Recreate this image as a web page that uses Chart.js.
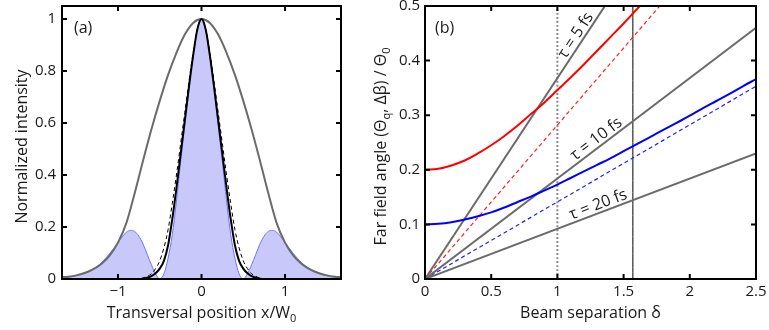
<!DOCTYPE html>
<html>
<head>
<meta charset="utf-8">
<script src="https://cdn.jsdelivr.net/npm/chart.js@4.4.1/dist/chart.umd.min.js"></script>
<style>
  body { margin: 0; background: #fff; }
  #wrap { position: relative; width: 769px; height: 330px; }
  #chartA { position: absolute; left: 0; top: 0; }
  #chartB { position: absolute; left: 355px; top: 0; }
</style>
</head>
<body>
<div id="wrap">
  <canvas id="chartA" width="355" height="330"></canvas>
  <canvas id="chartB" width="414" height="330"></canvas>
</div>
<script>
// ---- panel (a): intensity profiles ----
const grayX = [-1.67, -1.6, -1.5, -1.4, -1.3, -1.2, -1.1, -1, -0.9, -0.8, -0.7, -0.6, -0.5, -0.4, -0.3, -0.2, -0.1, 0,
               0.1, 0.2, 0.3, 0.4, 0.5, 0.6, 0.7, 0.8, 0.9, 1, 1.1, 1.2, 1.3, 1.4, 1.5, 1.6, 1.67];
const grayY = [0.007, 0.009, 0.014, 0.023, 0.037, 0.058, 0.09, 0.14, 0.215, 0.33, 0.455, 0.575, 0.685, 0.785, 0.87, 0.94, 0.985, 1,
               0.985, 0.94, 0.87, 0.785, 0.685, 0.575, 0.455, 0.33, 0.215, 0.14, 0.09, 0.058, 0.037, 0.023, 0.014, 0.009, 0.007];

const solidX = [-0.75, -0.7, -0.65, -0.6, -0.55, -0.5, -0.45, -0.4, -0.35, -0.3, -0.25, -0.2, -0.15, -0.1, -0.05, 0,
                0.05, 0.1, 0.15, 0.2, 0.25, 0.3, 0.35, 0.4, 0.45, 0.5, 0.55, 0.6, 0.65, 0.7, 0.75];
const solidY = [0, 0.001, 0.005, 0.011, 0.022, 0.04, 0.07, 0.13, 0.23, 0.35, 0.48, 0.61, 0.74, 0.86, 0.96, 1,
                0.96, 0.86, 0.74, 0.61, 0.48, 0.35, 0.23, 0.13, 0.07, 0.04, 0.022, 0.011, 0.005, 0.001, 0];

const dashX = [-0.8, -0.75, -0.7, -0.65, -0.6, -0.55, -0.5, -0.45, -0.4, -0.35, -0.3, -0.25, -0.2, -0.15, -0.1, -0.05, 0,
               0.05, 0.1, 0.15, 0.2, 0.25, 0.3, 0.35, 0.4, 0.45, 0.5, 0.55, 0.6, 0.65, 0.7, 0.75, 0.8];
const dashY = [0, 0.001, 0.004, 0.01, 0.02, 0.04, 0.07, 0.12, 0.19, 0.29, 0.40, 0.52, 0.64, 0.76, 0.87, 0.96, 1,
               0.96, 0.87, 0.76, 0.64, 0.52, 0.40, 0.29, 0.19, 0.12, 0.07, 0.04, 0.02, 0.01, 0.004, 0.001, 0];

const fillX = [-1.67, -1.6, -1.5, -1.4, -1.3, -1.2, -1.1, -1, -0.95, -0.9, -0.85, -0.8, -0.75, -0.7, -0.65, -0.6, -0.55,
               -0.5, -0.45, -0.4, -0.35, -0.3, -0.25, -0.2, -0.15, -0.1, -0.05, 0,
               0.05, 0.1, 0.15, 0.2, 0.25, 0.3, 0.35, 0.4, 0.45, 0.5,
               0.55, 0.6, 0.65, 0.7, 0.75, 0.8, 0.85, 0.9, 0.95, 1, 1.1, 1.2, 1.3, 1.4, 1.5, 1.6, 1.67];
const fillY = [0.005, 0.007, 0.013, 0.022, 0.038, 0.062, 0.098, 0.14, 0.162, 0.18, 0.187, 0.183, 0.165, 0.135, 0.095, 0.055, 0.02,
               0, 0.02, 0.08, 0.17, 0.30, 0.45, 0.59, 0.73, 0.86, 0.96, 1,
               0.96, 0.86, 0.73, 0.59, 0.45, 0.30, 0.17, 0.08, 0.02, 0,
               0.02, 0.055, 0.095, 0.135, 0.165, 0.183, 0.187, 0.18, 0.162, 0.14, 0.098, 0.062, 0.038, 0.022, 0.013, 0.007, 0.005];

// ---- panel (b): far field angle vs beam separation ----
const lineX = [0, 2.5];
const tau5Y = [0, 0.92];
const tau10Y = [0, 0.46];
const tau20Y = [0, 0.23];
const redDashY = [0, 0.705];
const blueDashY = [0, 0.353];

const redX = [0, 0.1, 0.2, 0.3, 0.4, 0.5, 0.6, 0.7, 0.8, 0.9, 1, 1.1, 1.2, 1.3, 1.4, 1.5, 1.6, 1.7];
const redY = [0.200, 0.202, 0.208, 0.217, 0.230, 0.245, 0.262, 0.281, 0.302, 0.323, 0.346, 0.369, 0.393, 0.418, 0.443, 0.468, 0.494, 0.519];

const blueX = [0, 0.1, 0.2, 0.3, 0.4, 0.5, 0.6, 0.7, 0.8, 0.9, 1, 1.1, 1.2, 1.3, 1.4, 1.5, 1.6, 1.7, 1.8, 1.9, 2, 2.1, 2.2, 2.3, 2.4, 2.5];
const blueY = [0.100, 0.101, 0.104, 0.109, 0.115, 0.122, 0.131, 0.141, 0.151, 0.162, 0.173, 0.185, 0.197, 0.209, 0.221, 0.234,
               0.247, 0.260, 0.273, 0.286, 0.299, 0.313, 0.326, 0.339, 0.353, 0.366];

const markerX = [1, 1.57];   // dotted gray, solid black
const markerY = [0, 0.5];

const tauLabels = ['τ = 5 fs', 'τ = 10 fs', 'τ = 20 fs'];
const tauLabelAt = [1.19, 1.33, 1.33];

const TEXT = '#1a1a1a';
const GRAY = '#6b6b6b';
const FONT = "'Open Sans', sans-serif";

Chart.defaults.font.family = FONT;
Chart.defaults.font.size = 15;
Chart.defaults.color = TEXT;

function pts(xs, ys) {
    return xs.map((x, i) => ({ x: x, y: ys[i] }));
}

function line(xs, ys, color, width, extra) {
    return Object.assign({
        data: pts(xs, ys),
        showLine: true,
        borderColor: color,
        borderWidth: width,
        pointRadius: 0,
        fill: false,
        cubicInterpolationMode: 'monotone'
    }, extra || {});
}

function noPad(s) {
    s.paddingLeft = 0; s.paddingRight = 0; s.paddingTop = 0; s.paddingBottom = 0;
}

// tick text like "0", "0.2", "1", "−1"
function fmt(v) {
    const s = String(Math.round(v * 100) / 100);
    return s.replace('-', '\u2212');
}

// box round the plot with inward ticks on all four sides
const framePlugin = {
    id: 'frame',
    afterDatasetsDraw(chart) {
        const { ctx, chartArea: a, scales } = chart;
        ctx.save();
        ctx.strokeStyle = '#000';
        ctx.lineWidth = 2;
        ctx.beginPath();
        scales.x.ticks.forEach(t => {
            const px = scales.x.getPixelForValue(t.value);
            ctx.moveTo(px, a.bottom); ctx.lineTo(px, a.bottom - 5);
            ctx.moveTo(px, a.top); ctx.lineTo(px, a.top + 5);
        });
        scales.y.ticks.forEach(t => {
            const py = scales.y.getPixelForValue(t.value);
            ctx.moveTo(a.left, py); ctx.lineTo(a.left + 5, py);
            ctx.moveTo(a.right, py); ctx.lineTo(a.right - 5, py);
        });
        ctx.stroke();
        ctx.strokeRect(a.left, a.top, a.right - a.left, a.bottom - a.top);
        ctx.restore();
    }
};

// text with subscripts, centred on cx along its baseline
function drawRich(ctx, parts, cx, baseY, rot) {
    ctx.save();
    ctx.translate(cx, baseY);
    ctx.rotate(rot);
    ctx.fillStyle = TEXT;
    ctx.textAlign = 'left';
    ctx.textBaseline = 'alphabetic';
    let w = 0;
    parts.forEach(p => {
        ctx.font = (p.sub ? '11px ' : '16px ') + FONT;
        w += ctx.measureText(p.t).width;
    });
    let x = -w / 2;
    parts.forEach(p => {
        ctx.font = (p.sub ? '11px ' : '16px ') + FONT;
        ctx.fillText(p.t, x, p.sub ? 3.5 : 0);
        x += ctx.measureText(p.t).width;
    });
    ctx.restore();
}

const textA = {
    id: 'textA',
    afterDraw(chart) {
        const { ctx, chartArea: a } = chart;
        drawRich(ctx, [{ t: 'Transversal position x/W' }, { t: '0', sub: true }], (a.left + a.right) / 2, 318, 0);
        drawRich(ctx, [{ t: 'Normalized intensity' }], 27, (a.top + a.bottom) / 2 + 4, -Math.PI / 2);
        ctx.save();
        ctx.font = '16px ' + FONT;
        ctx.fillStyle = TEXT;
        ctx.textBaseline = 'middle';
        ctx.fillText('(a)', a.left + 12, a.top + 22);
        ctx.restore();
    }
};

const textB = {
    id: 'textB',
    afterDraw(chart) {
        const { ctx, chartArea: a, scales } = chart;
        drawRich(ctx, [{ t: 'Beam separation δ' }], (a.left + a.right) / 2, 318, 0);
        drawRich(ctx, [{ t: 'Far field angle (Θ' }, { t: 'q', sub: true }, { t: ', Δβ) / Θ' }, { t: '0', sub: true }],
                 31, (a.top + a.bottom) / 2 + 4, -Math.PI / 2);
        ctx.save();
        ctx.font = '16px ' + FONT;
        ctx.fillStyle = TEXT;
        ctx.textBaseline = 'middle';
        ctx.fillText('(b)', a.left + 10, a.top + 22);
        // tau labels sit just above their lines
        const slopes = [tau5Y[1], tau10Y[1], tau20Y[1]];
        tauLabels.forEach((txt, i) => {
            const xv = tauLabelAt[i];
            const k = slopes[i] / lineX[1];
            const p0x = scales.x.getPixelForValue(xv), p0y = scales.y.getPixelForValue(k * xv);
            const p1x = scales.x.getPixelForValue(xv + 0.1), p1y = scales.y.getPixelForValue(k * (xv + 0.1));
            const ang = Math.atan2(p1y - p0y, p1x - p0x);
            const cx = p0x + 8 * Math.sin(ang), cy = p0y - 8 * Math.cos(ang);
            ctx.save();
            ctx.translate(cx, cy);
            ctx.rotate(ang);
            ctx.textAlign = 'center';
            ctx.fillText(txt, 0, 0);
            ctx.restore();
        });
        ctx.restore();
    }
};

new Chart(document.getElementById('chartA'), {
    type: 'scatter',
    data: {
        datasets: [
            line(solidX, solidY, '#000', 2),
            line(dashX, dashY, '#000', 1, { borderDash: [4, 3] }),
            line(grayX, grayY, GRAY, 2),
            line(fillX, fillY, '#7272ff', 1, { fill: 'origin', backgroundColor: '#c8c8fb' })
        ]
    },
    options: {
        responsive: false,
        animation: false,
        layout: { padding: { left: 0, top: 6, right: 14, bottom: 0 } },
        plugins: { legend: { display: false }, tooltip: { enabled: false } },
        scales: {
            x: {
                type: 'linear', min: -1.67, max: 1.67,
                grid: { display: false, drawTicks: false }, border: { display: false },
                ticks: { stepSize: 1, includeBounds: false, padding: 4, callback: fmt },
                afterFit: s => { s.height = 51; noPad(s); }
            },
            y: {
                min: 0, max: 1.05,
                grid: { display: false, drawTicks: false }, border: { display: false },
                ticks: { stepSize: 0.2, includeBounds: false, padding: 6, callback: fmt },
                afterFit: s => { s.width = 62; noPad(s); }
            }
        }
    },
    plugins: [framePlugin, textA]
});

new Chart(document.getElementById('chartB'), {
    type: 'scatter',
    data: {
        datasets: [
            line(redX, redY, '#ff0000', 2, { cubicInterpolationMode: 'default', tension: 0.4 }),
            line(blueX, blueY, '#0000ff', 2, { cubicInterpolationMode: 'default', tension: 0.4 }),
            line(lineX, tau5Y, GRAY, 2),
            line(lineX, tau10Y, GRAY, 2),
            line(lineX, tau20Y, GRAY, 2),
            line(lineX, redDashY, '#ff2020', 1.2, { borderDash: [4, 3] }),
            line(lineX, blueDashY, '#2020ff', 1.2, { borderDash: [4, 3] }),
            line([markerX[1], markerX[1]], markerY, '#000', 1),
            line([markerX[0], markerX[0]], markerY, '#8a8a8a', 2, { borderDash: [2, 2] })
        ]
    },
    options: {
        responsive: false,
        animation: false,
        layout: { padding: { left: 0, top: 6, right: 13, bottom: 0 } },
        plugins: { legend: { display: false }, tooltip: { enabled: false } },
        scales: {
            x: {
                type: 'linear', min: 0, max: 2.5,
                grid: { display: false, drawTicks: false }, border: { display: false },
                ticks: { stepSize: 0.5, padding: 4, callback: fmt },
                afterFit: s => { s.height = 51; noPad(s); }
            },
            y: {
                min: 0, max: 0.5,
                grid: { display: false, drawTicks: false }, border: { display: false },
                ticks: { stepSize: 0.1, padding: 5, callback: fmt },
                afterFit: s => { s.width = 70; noPad(s); }
            }
        }
    },
    plugins: [framePlugin, textB]
});
</script>
</body>
</html>
